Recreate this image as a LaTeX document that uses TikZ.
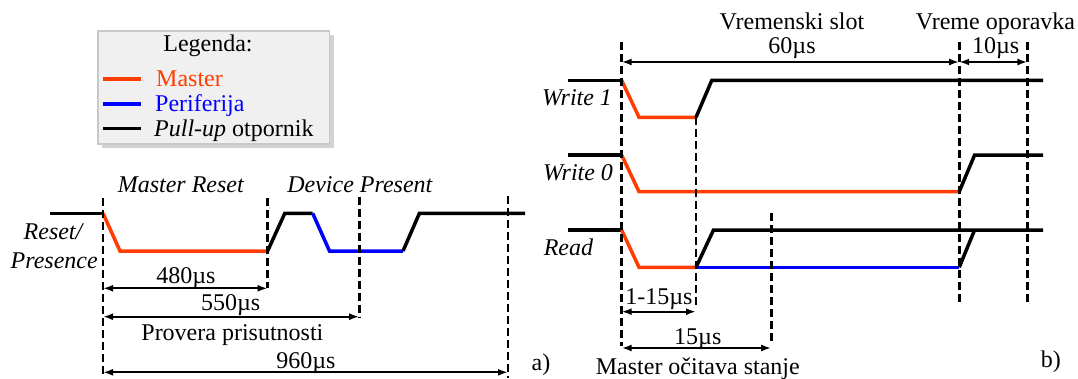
\documentclass[tikz,border=0pt]{standalone}
\usepackage{fontspec}
\setmainfont{Liberation Serif}
\usetikzlibrary{arrows.meta,shadows}
\definecolor{mred}{RGB}{255,61,0}
\definecolor{pblue}{RGB}{0,0,255}
\definecolor{legfill}{RGB}{240,240,240}
\definecolor{legdraw}{RGB}{200,200,200}
\begin{document}
\begin{tikzpicture}[x=1pt,y=-1pt,
  font=\fontsize{24}{28}\selectfont,
  sig/.style={line width=3.5pt},
  mst/.style={sig, draw=mred},
  per/.style={sig, draw=pblue},
  pul/.style={sig, draw=black},
  vdash/.style={line width=2.6pt, dash pattern=on 8pt off 4pt},
  dim/.style={line width=2.2pt, {Latex[length=10pt,width=7pt]}-{Latex[length=10pt,width=7pt]}},
  txt/.style={inner sep=0pt, anchor=base},
  itx/.style={txt, font=\fontsize{24}{28}\selectfont\itshape}]
\useasboundingbox (0,0) rectangle (1078,378);

% ---------- legend ----------
\node[draw=legdraw, fill=legfill, line width=1.5pt,
      drop shadow={shadow xshift=4pt, shadow yshift=-4pt, opacity=0.35},
      minimum width=231.5pt, minimum height=113pt, inner sep=0pt] (legend) at (213.75,87.5) {};
\node[txt] (legt) at (208,51.7) {Legenda:};
\draw[mst] (103.3,79) -- (141.2,79);
\draw[per] (103.3,104) -- (141.2,104);
\draw[pul] (103.3,128.3) -- (141.2,128.3);
\node[txt, anchor=base west, text=mred] (legm) at (156,86) {Master};
\node[txt, anchor=base west, text=pblue] (legp) at (155,111) {Periferija};
\node[txt, anchor=base west] (legu) at (154,136) {\textit{Pull-up} otpornik};

% ---------- panel a ----------
\coordinate (a1t) at (103,198.3);   \coordinate (a1b) at (103,378);
\coordinate (a2t) at (267.6,198.3); \coordinate (a2b) at (267.6,288.3);
\coordinate (a3t) at (359.2,196.7); \coordinate (a3b) at (359.2,318.3);
\coordinate (a4t) at (508,196);     \coordinate (a4b) at (508,378);

\draw[pul] (50,213.3) -- (103,213.3);
\draw[mst] (103,213.3) -- (120,251) -- (267.6,251);
\draw[pul] (267.6,251) -- (284.8,213.3) -- (312.7,213.3);
\draw[per] (312.7,213.3) -- (329.5,251) -- (403,251);
\draw[pul] (403,251) -- (419.4,213.3) -- (525,213.3);

\draw[vdash] (a1t) -- (a1b);
\draw[vdash] (a2t) -- (a2b);
\draw[vdash] (a3t) -- (a3b);
\draw[vdash] (a4t) -- (a4b);

\coordinate (d480l) at (103,288.3);   \coordinate (d480r) at (267.6,288.3);
\coordinate (d550l) at (103,316.7);   \coordinate (d550r) at (359.2,316.7);
\coordinate (d960l) at (103,372.3);   \coordinate (d960r) at (508,372.3);
\draw[dim] (d480l) -- (d480r);
\draw[dim] (d550l) -- (d550r);
\draw[dim] (d960l) -- (d960r);

\node[itx] (mreset) at (180.8,192.7) {Master Reset};
\node[itx] (dpres) at (359.8,192.7) {Device Present};
\node[itx] (rp1) at (53,239.3) {Reset/};
\node[itx] (rp2) at (54.2,268.3) {Presence};
\node[txt] (t480) at (186,283.3) {480µs};
\node[txt] (t550) at (230.7,310.7) {550µs};
\node[txt] (tprov) at (232.4,340) {Provera prisutnosti};
\node[txt] (t960) at (306,368.3) {960µs};
\node[txt] (ta) at (541,370) {a)};

% ---------- panel b ----------
\coordinate (b1t) at (621.6,41.7); \coordinate (b1b) at (621.6,346);
\coordinate (b2t) at (696,117.3);  \coordinate (b2b) at (696,305);
\coordinate (b3t) at (771.2,213.3);\coordinate (b3b) at (771.2,345);
\coordinate (b4t) at (959.2,41.7); \coordinate (b4b) at (959.2,305);
\coordinate (b5t) at (1027.4,41.7);\coordinate (b5b) at (1027.4,305);

% Write 1
\draw[pul] (567.7,80.3) -- (621.6,80.3);
\draw[mst] (621.6,80.3) -- (639,117.3) -- (696,117.3);
\draw[pul] (696,117.3) -- (711.8,80.3) -- (1043,80.3);
% Write 0
\draw[pul] (567.7,155) -- (621.6,155);
\draw[mst] (621.6,155) -- (639,191.7) -- (959.2,191.7);
\draw[pul] (959.2,191.7) -- (974.6,155) -- (1043,155);
% Read
\draw[pul] (567.7,230) -- (621.6,230);
\draw[mst] (621.6,230) -- (639,267.3) -- (696,267.3);
\draw[per] (696,267.3) -- (959.2,267.3);
\draw[pul] (696,267.3) -- (713.5,230) -- (1043,230);
\draw[pul] (959.2,267.3) -- (974.6,230);

\draw[vdash] (b1t) -- (b1b);
\draw[vdash] (b2t) -- (b2b);
\draw[vdash] (b3t) -- (b3b);
\draw[vdash] (b4t) -- (b4b);
\draw[vdash] (b5t) -- (b5b);

\coordinate (d60l) at (621.6,62);  \coordinate (d60r) at (959.2,62);
\coordinate (d10r) at (1027.4,62);
\coordinate (d115l) at (621.6,311.7); \coordinate (d115r) at (696,311.7);
\coordinate (d15l) at (621.6,348); \coordinate (d15r) at (771.2,348);
\draw[dim] (d60l) -- (d60r);
\draw[dim] (d60r) -- (d10r);
\draw[dim] (d115l) -- (d115r);
\draw[dim] (d15l) -- (d15r);

\node[txt] (vslot) at (792,29.3) {Vremenski slot};
\node[txt] (t60) at (792,53.3) {60µs};
\node[txt] (vop) at (995.5,29.3) {Vreme oporavka};
\node[txt] (t10) at (995.6,53.3) {10µs};
\node[itx] (w1) at (577,105) {Write 1};
\node[itx] (w0) at (578,180) {Write 0};
\node[itx] (rd) at (568.4,255) {Read};
\node[txt] (t115) at (659,304) {1-15µs};
\node[txt] (t15) at (697.8,344.3) {15µs};
\node[txt] (mos) at (697.8,374) {Master očitava stanje};
\node[txt] (tb) at (1050.8,367) {b)};
\end{tikzpicture}
\end{document}
